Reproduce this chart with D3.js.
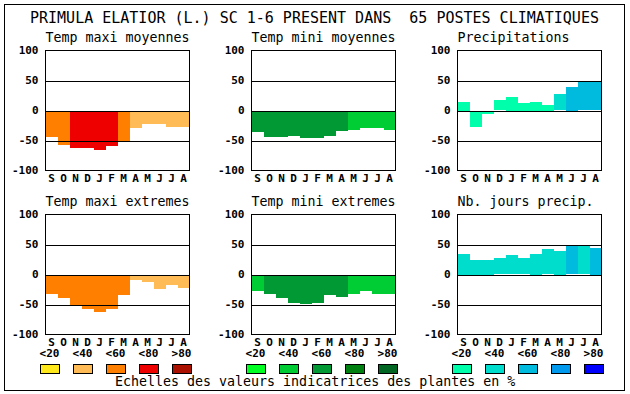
<!DOCTYPE html>
<html>
<head>
<meta charset="utf-8">
<script src="https://cdn.jsdelivr.net/npm/d3@7"></script>
<style>
  body { margin:0; background:#fff; }
  svg { display:block; }
  text { font-family:"DejaVu Sans Mono", monospace; fill:#000; }
</style>
</head>
<body>
<svg id="chart" width="630" height="394"></svg>
<script>
// months Sept -> Aug, values in % (class index picks the colour box)
const months = ['S','O','N','D','J','F','M','A','M','J','J','A'];

const tmaxMoy    = [-43,-57,-61,-61,-65,-58,-50,-28,-22,-22,-27,-27];
const tmaxMoyCls = [2,2,3,3,3,3,2,1,1,1,1,1];
const tminMoy    = [-35,-43,-43,-42,-45,-45,-42,-33,-32,-28,-28,-32];
const tminMoyCls = [2,2,2,2,2,2,2,2,1,1,1,1];
const precip     = [15,-26,-5,17,23,13,15,10,27,40,49,49];
const precipCls  = [0,0,0,0,0,0,0,0,1,2,2,2];
const tmaxExt    = [-31,-38,-52,-56,-62,-56,-34,-8,-11,-24,-16,-22];
const tmaxExtCls = [2,2,2,2,2,2,2,1,1,1,1,1];
const tminExt    = [-27,-32,-38,-47,-49,-47,-34,-36,-32,-26,-31,-31];
const tminExtCls = [1,2,2,2,2,2,2,2,1,1,1,1];
const nbJours    = [35,25,25,27,32,27,35,42,40,49,49,45];
const nbJoursCls = [1,1,1,1,1,1,1,1,1,2,1,2];

const yTicks = [100,50,0,-50,-100];
const legendLabels = ['<20','<40','<60','<80','>80'];

const warm  = ['#ffe81c','#ffbb55','#ff8000','#ee0000','#aa1100'];
const green = ['#00ff22','#00cc33','#009933','#008011','#006622'];
const blue  = ['#00ffaa','#00ddcc','#00bbdd','#0099ee','#0000ff'];

const title = 'PRIMULA ELATIOR (L.) SC 1-6 PRESENT DANS  65 POSTES CLIMATIQUES';
const footer = 'Echelles des valeurs indicatrices des plantes en %';

const panels = [
  {name:'Temp maxi moyennes', vals:tmaxMoy, cls:tmaxMoyCls, pal:warm,  col:0, row:0},
  {name:'Temp mini moyennes', vals:tminMoy, cls:tminMoyCls, pal:green, col:1, row:0},
  {name:'Precipitations',     vals:precip,  cls:precipCls,  pal:blue,  col:2, row:0},
  {name:'Temp maxi extremes', vals:tmaxExt, cls:tmaxExtCls, pal:warm,  col:0, row:1},
  {name:'Temp mini extremes', vals:tminExt, cls:tminExtCls, pal:green, col:1, row:1},
  {name:'Nb. jours precip.',  vals:nbJours, cls:nbJoursCls, pal:blue,  col:2, row:1}
];

const svg = d3.select('#chart');
const W = 144, H = 120;
const colX = [45.5, 251.5, 457.5], rowY = [50.5, 214.5];

svg.append('rect').attr('x',4.5).attr('y',4.5).attr('width',620).attr('height',386)
  .attr('fill','none').attr('stroke','#000');

svg.append('text').attr('x',30).attr('y',23).attr('font-size',15)
  .attr('xml:space','preserve').style('white-space','pre').text(title);

panels.forEach(p=>{
  const x0 = colX[p.col], y0 = rowY[p.row];
  const g = svg.append('g');
  const x = d3.scaleBand().domain(d3.range(months.length)).range([x0, x0+W]);
  const y = d3.scaleLinear().domain([-100,100]).range([y0+H, y0]);

  g.append('text').attr('x',x0).attr('y',y0-9).attr('font-size',13.3).text(p.name);

  g.selectAll('rect.bar').data(p.vals).enter().append('rect').attr('class','bar')
    .attr('shape-rendering','crispEdges')
    .attr('x',(d,i)=>Math.round(x(i))).attr('width',x.bandwidth())
    .attr('y',d=>Math.round(y(Math.max(0,d)))).attr('height',d=>Math.round(Math.abs(y(d)-y(0))))
    .attr('fill',(d,i)=>p.pal[p.cls[i]]);

  g.selectAll('line.grid').data([50,0,-50]).enter().append('line').attr('class','grid')
    .attr('x1',x0).attr('x2',x0+W).attr('y1',d=>Math.round(y(d))+0.5).attr('y2',d=>Math.round(y(d))+0.5)
    .attr('stroke','#000');

  g.append('rect').attr('x',x0).attr('y',y0).attr('width',W).attr('height',H)
    .attr('fill','none').attr('stroke','#000');

  g.selectAll('text.yt').data(yTicks).enter().append('text').attr('class','yt')
    .attr('x',x0-7).attr('y',d=>y(d)).attr('dy','0.36em').attr('text-anchor','end')
    .attr('font-size',11).attr('font-weight','bold').text(d=>d);

  g.selectAll('text.mt').data(months).enter().append('text').attr('class','mt')
    .attr('x',(d,i)=>x(i)+x.bandwidth()/2).attr('y',y0+H+11).attr('text-anchor','middle')
    .attr('font-size',11).attr('font-weight','bold').text(d=>d);
});

// legends under each column
colX.forEach((cx,c)=>{
  const pal = [warm,green,blue][c];
  const lx = d3.scaleLinear().domain([0,4]).range([cx-6, cx+126]);
  svg.selectAll(null).data(legendLabels).enter().append('text')
    .attr('x',(d,i)=>lx(i)+10).attr('y',357).attr('text-anchor','middle')
    .attr('font-size',11).attr('font-weight','bold').text(d=>d);
  svg.selectAll(null).data(pal).enter().append('rect')
    .attr('x',(d,i)=>Math.round(lx(i))+0.5).attr('y',364.5).attr('width',19).attr('height',9)
    .attr('fill',d=>d).attr('stroke','#000');
});

svg.append('text').attr('x',115).attr('y',386).attr('font-size',13.3).text(footer);
</script>
</body>
</html>
